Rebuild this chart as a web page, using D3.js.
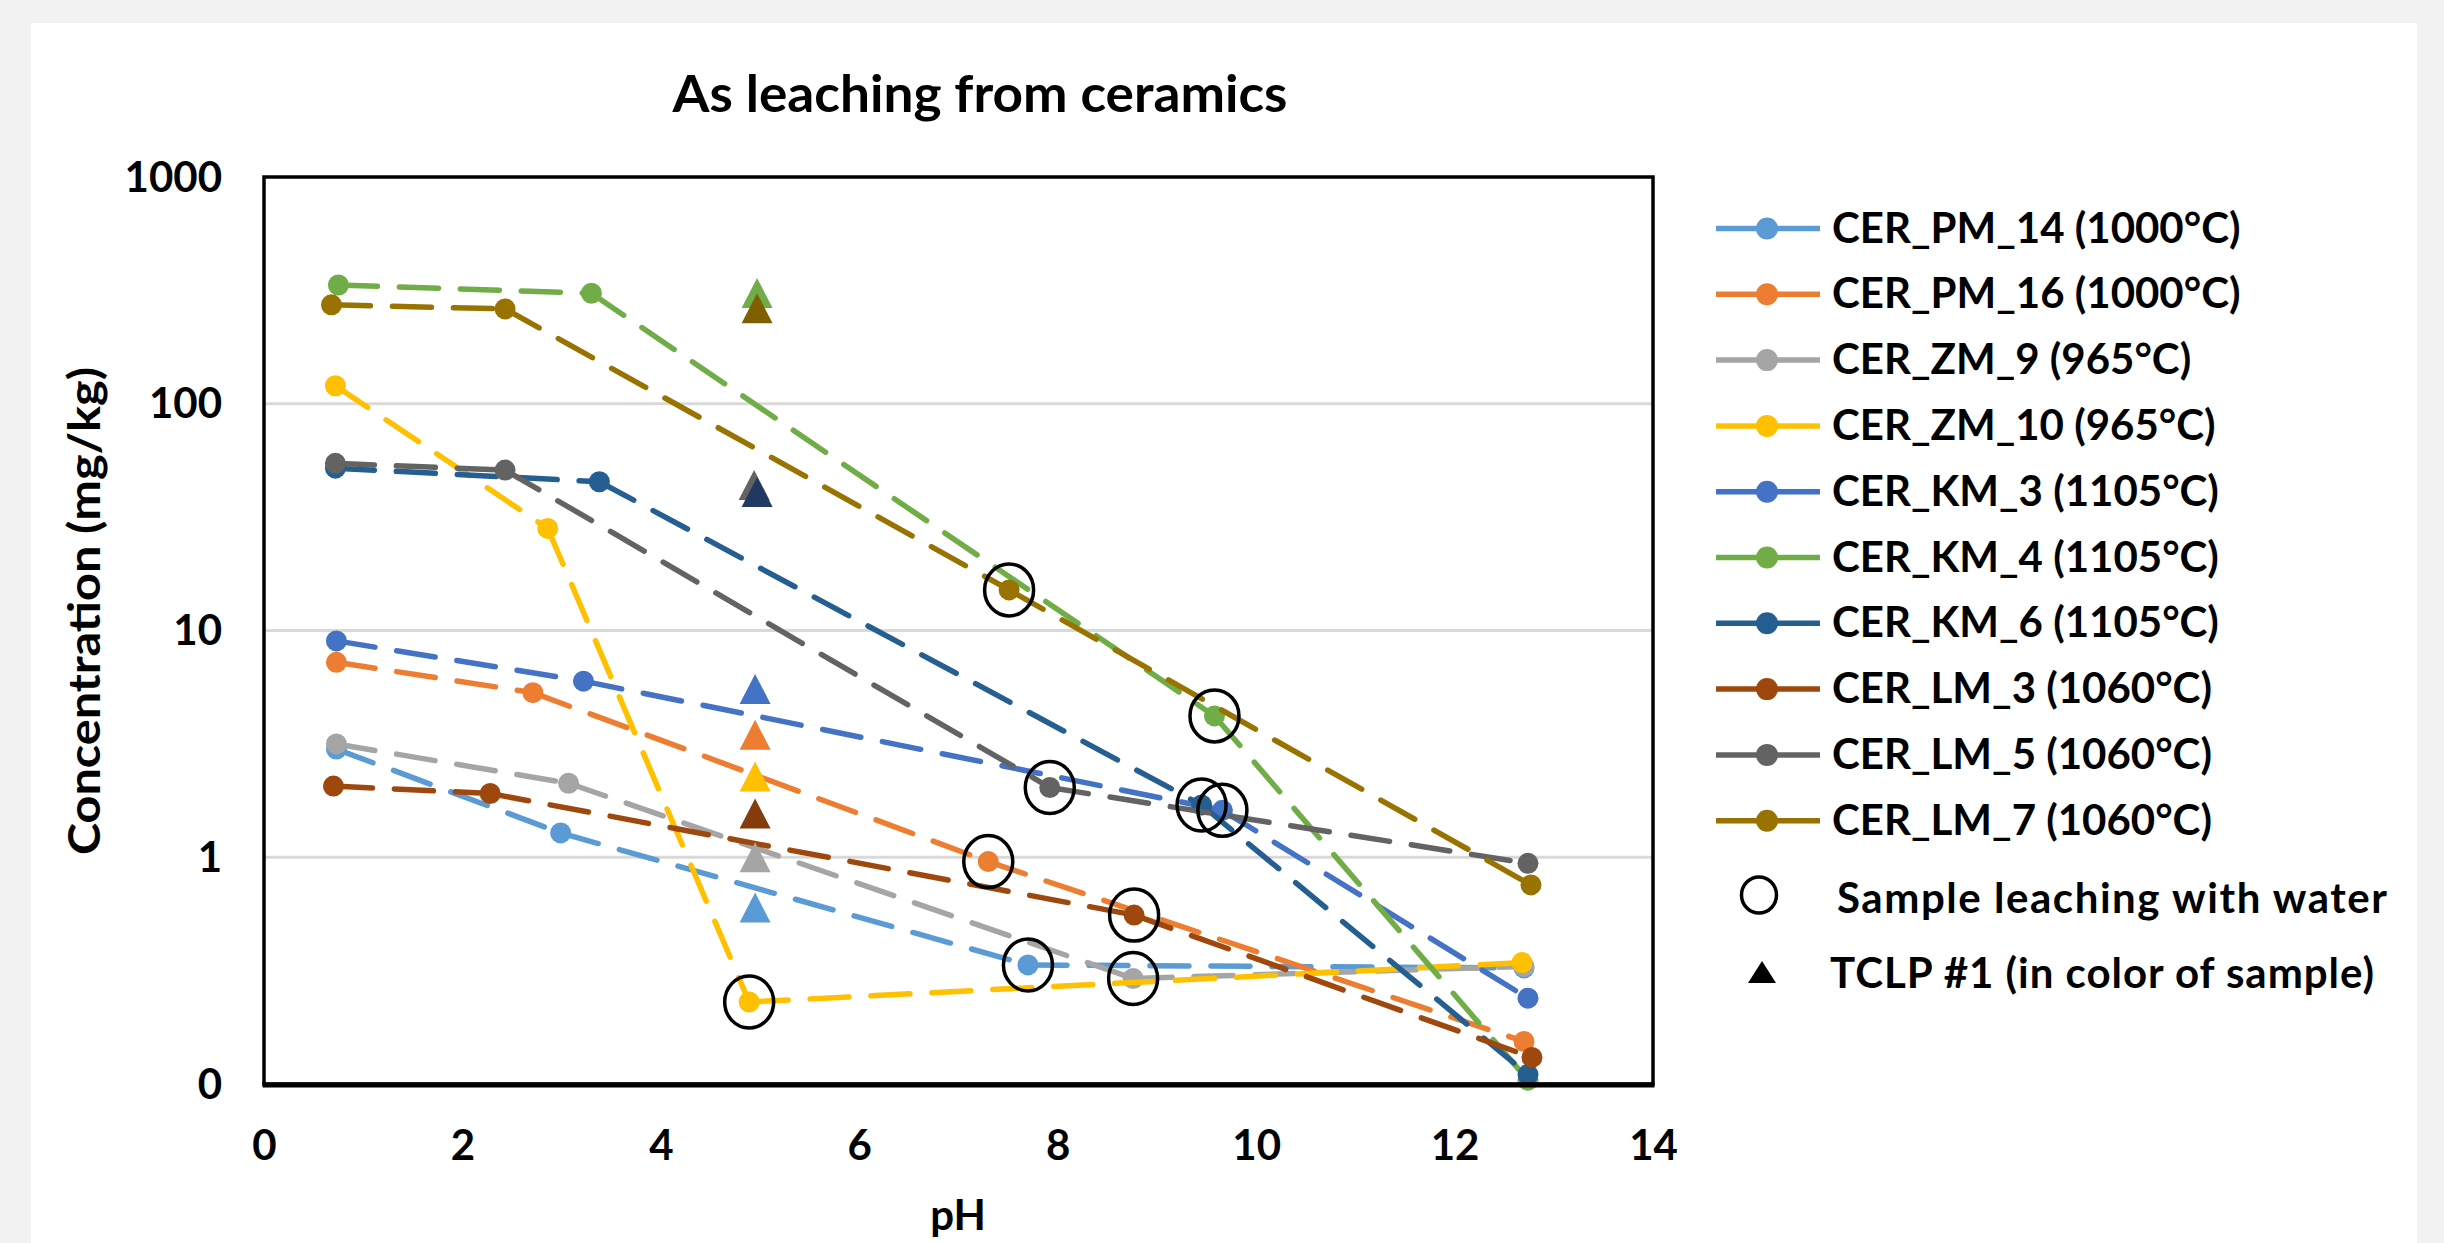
<!DOCTYPE html>
<html>
<head>
<meta charset="utf-8">
<script src="https://cdn.jsdelivr.net/npm/d3@7"></script>
<style>
  html, body { margin: 0; padding: 0; background: #f2f2f2; }
  svg { display: block; }
  text { font-family: Lato, "Open Sans", sans-serif; font-weight: bold; fill: #000; }
</style>
</head>
<body>
<svg id="chart" width="2444" height="1243"></svg>
<script>
// ---- data ----
var seriesNames = [
    "CER_PM_14 (1000°C)", "CER_PM_16 (1000°C)", "CER_ZM_9 (965°C)", "CER_ZM_10 (965°C)",
    "CER_KM_3 (1105°C)", "CER_KM_4 (1105°C)", "CER_KM_6 (1105°C)",
    "CER_LM_3 (1060°C)", "CER_LM_5 (1060°C)", "CER_LM_7 (1060°C)"
];
var seriesColors = ["#5b9bd5", "#ed7d31", "#a5a5a5", "#ffc000", "#4472c4",
    "#70ad47", "#255e91", "#9e480e", "#636363", "#997300"];
// TCLP triangles are drawn in a slightly darker shade for some samples
var tclpColors = ["#5b9bd5", "#ed7d31", "#a5a5a5", "#ffc000", "#4472c4",
    "#70ad47", "#203864", "#843c0c", "#636363", "#7f6000"];

var seriesPH = [
    [0.73, 2.99, 7.70, 12.70],
    [0.73, 2.71, 7.30, 12.70],
    [0.73, 3.07, 8.76, 12.70],
    [0.72, 2.86, 4.89, 12.68],
    [0.73, 3.22, 9.66, 12.74],
    [0.75, 3.30, 9.58, 12.74],
    [0.72, 3.38, 9.45, 12.74],
    [0.70, 2.28, 8.77, 12.78],
    [0.72, 2.43, 7.92, 12.74],
    [0.68, 2.43, 7.51, 12.77]
];
var seriesConc = [
    [3.0, 1.28, 0.335, 0.325],
    [7.24, 5.32, 0.957, 0.154],
    [3.16, 2.12, 0.292, 0.33],
    [120, 28.2, 0.23, 0.343],
    [9.0, 5.98, 1.61, 0.239],
    [334, 307, 4.2, 0.104],
    [52, 45.3, 1.70, 0.110],
    [2.06, 1.91, 0.556, 0.131],
    [54.6, 51, 2.03, 0.94],
    [273, 262, 15.1, 0.755]
];
// the point of each series that was leached with water (circled)
var waterIndex = [2, 2, 2, 2, 2, 2, 2, 2, 2, 2];

var tclpPH =   [4.95, 4.95, 4.95, 4.95, 4.95, 4.97, 4.97, 4.95, 4.94, 4.97];
var tclpConc = [0.60, 3.47, 1.0, 2.27, 5.52, 308, 40.8, 1.56, 43.8, 264];
var tclpOrder = [0, 1, 2, 3, 4, 7, 5, 9, 8, 6];

var xTicks = [0, 2, 4, 6, 8, 10, 12, 14];
var yTicks = [0.1, 1, 10, 100, 1000];

var svg = d3.select("#chart");
var margin = { left: 264, right: 1653, top: 177, bottom: 1084 };

svg.append("rect").attr("x", 0).attr("y", 0).attr("width", 2444).attr("height", 1243).attr("fill", "#f2f2f2");
svg.append("rect").attr("x", 31).attr("y", 23).attr("width", 2386).attr("height", 1230).attr("fill", "#ffffff");

var xScale = d3.scaleLinear().domain([0, 14]).range([margin.left, margin.right]);
var yScale = d3.scaleLog().domain([0.1, 1000]).range([margin.bottom, margin.top]);

// gridlines
svg.append("g").selectAll("line")
    .data([1, 10, 100])
    .enter().append("line")
    .attr("x1", margin.left).attr("x2", margin.right)
    .attr("y1", d => yScale(d)).attr("y2", d => yScale(d))
    .attr("stroke", "#d9d9d9").attr("stroke-width", 3);

// axes (labels only, the frame is drawn below)
var xAxis = d3.axisBottom(xScale).tickValues(xTicks).tickSize(0).tickPadding(0).tickFormat(d3.format("d"));
var gx = svg.append("g").attr("transform", "translate(0," + 1160 + ")").call(xAxis);
gx.select(".domain").remove();
gx.selectAll("text").attr("dy", 0).attr("y", 0).style("font-size", "42px").style("font-family", null);

var yAxis = d3.axisLeft(yScale).tickValues(yTicks).tickSize(0).tickPadding(0).tickFormat(d3.format(".0f"));
var gy = svg.append("g").attr("transform", "translate(" + 222 + ",0)").call(yAxis);
gy.select(".domain").remove();
gy.selectAll("text").attr("dy", 0).attr("x", 0).attr("y", 14).style("font-size", "42px").style("font-family", null);
gx.attr("font-family", null).attr("font-size", null);
gy.attr("font-family", null).attr("font-size", null);

// series lines: each segment on its own so the dash restarts at every point
var segGroup = svg.append("g");
seriesNames.forEach(function(name, s) {
    var g = segGroup.append("g");
    var pts = seriesPH[s].map(function(p, i) { return [p, seriesConc[s][i]]; });
    var segs = d3.pairs(pts);
    g.selectAll("line").data(segs).enter().append("line")
        .attr("x1", d => xScale(d[0][0])).attr("y1", d => yScale(d[0][1]))
        .attr("x2", d => xScale(d[1][0])).attr("y2", d => yScale(d[1][1]))
        .attr("stroke", seriesColors[s])
        .attr("stroke-width", 5.5)
        .attr("stroke-linecap", "round")
        .attr("stroke-dasharray", "39,22");
    g.selectAll("circle").data(pts).enter().append("circle")
        .attr("cx", d => xScale(d[0])).attr("cy", d => yScale(d[1]))
        .attr("r", 10.5)
        .attr("fill", seriesColors[s]);
});

// TCLP triangles
function triangle(cx, cy, w, h) {
    return "M" + cx + "," + (cy - h / 2) + "L" + (cx + w / 2) + "," + (cy + h / 2) + "L" + (cx - w / 2) + "," + (cy + h / 2) + "Z";
}
svg.append("g").selectAll("path")
    .data(tclpOrder)
    .enter().append("path")
    .attr("d", s => triangle(xScale(tclpPH[s]), yScale(tclpConc[s]), 31, 30))
    .attr("fill", s => tclpColors[s]);

// water leaching circles
svg.append("g").selectAll("ellipse")
    .data(seriesNames.map((_, s) => s))
    .enter().append("ellipse")
    .attr("cx", s => xScale(seriesPH[s][waterIndex[s]]))
    .attr("cy", s => yScale(seriesConc[s][waterIndex[s]]))
    .attr("rx", 24.5).attr("ry", 26)
    .attr("fill", "none").attr("stroke", "#000").attr("stroke-width", 3.5);

// plot frame
svg.append("rect")
    .attr("x", margin.left).attr("y", margin.top)
    .attr("width", margin.right - margin.left).attr("height", margin.bottom - margin.top)
    .attr("fill", "none").attr("stroke", "#000").attr("stroke-width", 3.5);
svg.append("line")
    .attr("x1", margin.left - 1.5).attr("x2", margin.right + 1.5)
    .attr("y1", margin.bottom + 1).attr("y2", margin.bottom + 1)
    .attr("stroke", "#000").attr("stroke-width", 5);

// titles
svg.append("text").attr("x", 980).attr("y", 112).attr("text-anchor", "middle")
    .attr("textLength", 615).attr("lengthAdjust", "spacingAndGlyphs")
    .style("font-size", "52px").text("As leaching from ceramics");
svg.append("text").attr("x", 958).attr("y", 1230).attr("text-anchor", "middle")
    .style("font-size", "42px").text("pH");
svg.append("text").attr("transform", "translate(100,611) rotate(-90)").attr("text-anchor", "middle")
    .attr("textLength", 488).attr("lengthAdjust", "spacingAndGlyphs")
    .style("font-size", "43px").text("Concentration (mg/kg)");

// legend
var legend = svg.append("g");
var rows = legend.selectAll("g").data(seriesNames).enter().append("g")
    .attr("transform", (d, i) => "translate(0," + (228.5 + i * 65.8) + ")");
rows.append("line").attr("x1", 1716).attr("x2", 1820).attr("y1", 0).attr("y2", 0)
    .attr("stroke", (d, i) => seriesColors[i]).attr("stroke-width", 5.5);
rows.append("circle").attr("cx", 1767).attr("cy", 0).attr("r", 11)
    .attr("fill", (d, i) => seriesColors[i]);
rows.append("text").attr("x", 1832).attr("y", 14).style("font-size", "42px").text(d => d);

legend.append("ellipse").attr("cx", 1759).attr("cy", 895).attr("rx", 17.5).attr("ry", 18)
    .attr("fill", "none").attr("stroke", "#000").attr("stroke-width", 3.5);
legend.append("text").attr("x", 1837).attr("y", 913).style("font-size", "42px")
    .attr("textLength", 550).attr("lengthAdjust", "spacing").text("Sample leaching with water");
legend.append("path").attr("d", triangle(1762, 972, 28, 22)).attr("fill", "#000");
legend.append("text").attr("x", 1830).attr("y", 988).style("font-size", "42px")
    .attr("textLength", 544).attr("lengthAdjust", "spacing").text("TCLP #1 (in color of sample)");
</script>
</body>
</html>
